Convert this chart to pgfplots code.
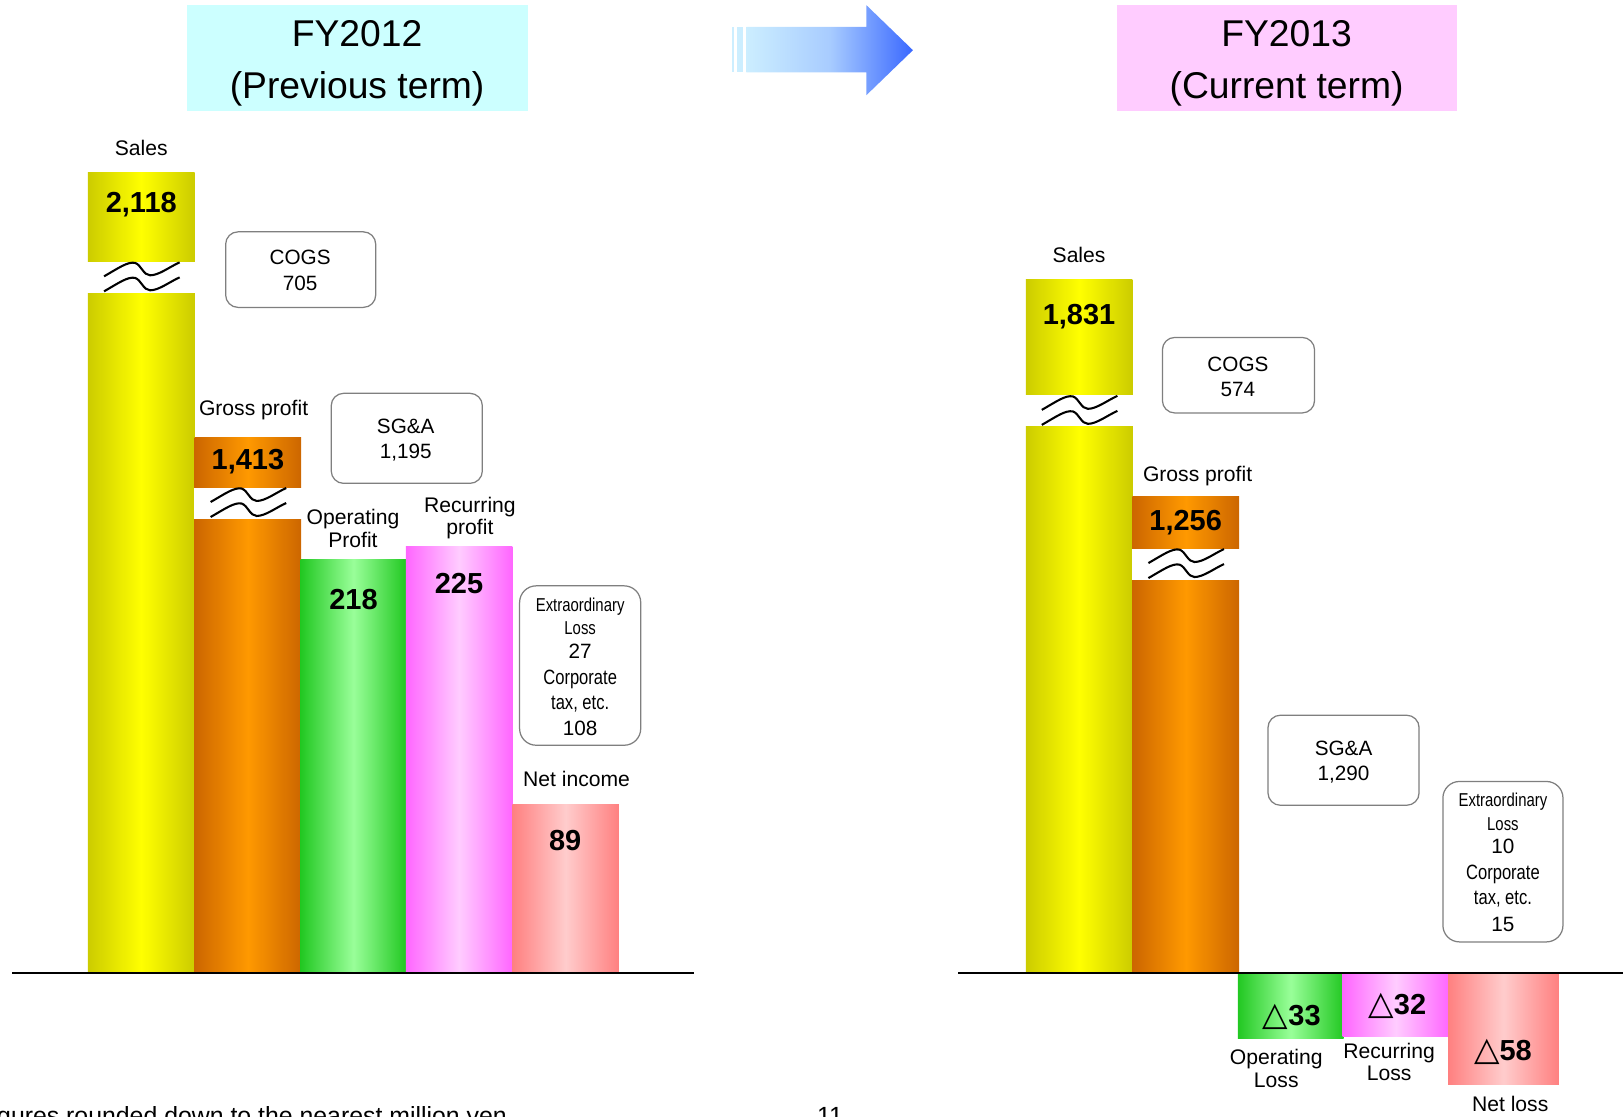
\documentclass[border=0pt]{standalone}
\usepackage{pgfplots}
\pgfplotsset{compat=1.18}
\usepackage{fontspec}
\setmainfont{Liberation Sans}
\newfontfamily\dejavu{DejaVu Sans}
\newfontfamily\narrow{Liberation Sans}[FakeStretch=0.8]

\definecolor{yedge}{HTML}{CCCC00}\definecolor{ymid}{HTML}{FFFF00}
\definecolor{oedge}{HTML}{CC6600}\definecolor{omid}{HTML}{FF9900}
\definecolor{gedge}{HTML}{22C822}\definecolor{gmid}{HTML}{99FF99}
\definecolor{medge}{HTML}{FF66FF}\definecolor{mmid}{HTML}{FFCCFF}
\definecolor{redge}{HTML}{FF8080}\definecolor{rmid}{HTML}{FFCCCC}
\definecolor{titlecyan}{HTML}{CCFFFF}\definecolor{titlepink}{HTML}{FFCCFF}
\definecolor{boxgray}{HTML}{7F7F7F}
\definecolor{arrL}{HTML}{CCEEFF}\definecolor{arrM}{HTML}{A8CCFF}\definecolor{arrR}{HTML}{3A68FF}

\newcommand{\lab}{\fontsize{10.2}{12}\selectfont}
\newcommand{\num}{\fontsize{14}{16}\selectfont\bfseries}
\newcommand{\ttl}{\fontsize{18}{21}\selectfont}
\newcommand{\bx}{\fontsize{10}{12}\selectfont}
\newcommand{\nar}{\narrow\fontsize{9}{11}\selectfont}
\newcommand{\tri}{{\dejavu\fontsize{16}{16}\selectfont\bfseries △}}

\pgfplotsset{barsty/.style n args={3}{ybar, bar width=#3, bar shift=0pt, draw=none,
  left color=#1, right color=#1, middle color=#2}}

% one wavy line, #1 = centre x, #2 = top y
\newcommand{\wav}[2]{%
 \draw[line width=1pt] (axis cs:{#1-36},{#2-14}) .. controls (axis cs:{#1-22},{#2-6}) and (axis cs:{#1-13},{#2+0.5}) ..
 (axis cs:{#1-6},{#2-1}) .. controls (axis cs:{#1},{#2-3}) and (axis cs:{#1+2},{#2-13}) ..
 (axis cs:{#1+8.5},{#2-13}) .. controls (axis cs:{#1+17},{#2-13}) and (axis cs:{#1+27},{#2-5}) ..
 (axis cs:{#1+37},{#2-0.5});}
\newcommand{\brk}[2]{%
 \fill[white] (axis cs:{#1-52},{#2}) rectangle (axis cs:{#1+52},{#2-30});
 \wav{#1}{#2}\wav{#1}{#2-14.5}}

\begin{document}
\begin{tikzpicture}
\begin{axis}[name=main, hide axis, scale only axis, clip=false,
  width=784pt, height=539.5pt, xmin=0, xmax=1568, ymin=-139, ymax=940]

% titles
\fill[titlecyan] (axis cs:181,935) rectangle (axis cs:510,833);
\fill[titlepink] (axis cs:1079,935) rectangle (axis cs:1408,833);
\node[inner sep=0] at (axis cs:345,907) {\ttl FY2012};
\node[inner sep=0] at (axis cs:345,854) {\ttl (Previous term)};
\node[inner sep=0] at (axis cs:1243,907) {\ttl FY2013};
\node[inner sep=0] at (axis cs:1243,854) {\ttl (Current term)};

% arrow
\fill[arrL] (axis cs:707,914) rectangle (axis cs:709,870);
\fill[arrL] (axis cs:712,914) rectangle (axis cs:718,870);
\path[left color=arrL, right color=arrR, middle color=arrM]
 (axis cs:721,914) -- (axis cs:837,914) -- (axis cs:837,935) -- (axis cs:882,891.5)
 -- (axis cs:837,848) -- (axis cs:837,870) -- (axis cs:721,870) -- cycle;

% bars (heights as drawn, baseline = 0)
% FY2012
\addplot[barsty={yedge}{ymid}{103}] coordinates {(136.5,773)};
\addplot[barsty={oedge}{omid}{103}] coordinates {(239.5,517)};
\addplot[barsty={gedge}{gmid}{102}] coordinates {(341.5,399)};
\addplot[barsty={medge}{mmid}{103}] coordinates {(443.5,412)};
\addplot[barsty={redge}{rmid}{103}] coordinates {(546.5,163)};
% FY2013
\addplot[barsty={yedge}{ymid}{103}] coordinates {(1042.5,670)};
\addplot[barsty={oedge}{omid}{103}] coordinates {(1145.5,460)};
\addplot[barsty={gedge}{gmid}{102}] coordinates {(1247,-63)};
\addplot[barsty={medge}{mmid}{103}] coordinates {(1348.5,-61)};
\addplot[barsty={redge}{rmid}{107}] coordinates {(1452.5,-108)};

% breaks
\brk{136.5}{687}
\brk{239.5}{469}
\brk{1042.5}{558}
\brk{1145.5}{410}

% baselines
\draw[line width=1pt] (axis cs:12,0) -- (axis cs:670,0);
\draw[line width=1pt] (axis cs:926,0) -- (axis cs:1568,0);

% boxes
\draw[boxgray, line width=0.6pt, rounded corners=6pt, fill=white] (axis cs:218,716) rectangle (axis cs:363,643);
\draw[boxgray, line width=0.6pt, rounded corners=6pt, fill=white] (axis cs:320,560) rectangle (axis cs:466,473);
\draw[boxgray, line width=0.6pt, rounded corners=8pt, fill=white] (axis cs:502,374) rectangle (axis cs:619,220);
\draw[boxgray, line width=0.6pt, rounded corners=6pt, fill=white] (axis cs:1123,614) rectangle (axis cs:1270,541);
\draw[boxgray, line width=0.6pt, rounded corners=6pt, fill=white] (axis cs:1225,249) rectangle (axis cs:1371,162);
\draw[boxgray, line width=0.6pt, rounded corners=8pt, fill=white] (axis cs:1394,185) rectangle (axis cs:1510,30);

% left texts
\node[inner sep=0] at (axis cs:136.5,797) {\lab Sales};
\node[inner sep=0] at (axis cs:136.5,742) {\num 2,118};
\node[inner sep=0] at (axis cs:245,544) {\lab Gross profit};
\node[inner sep=0] at (axis cs:239.5,494) {\num 1,413};
\node[inner sep=0] at (axis cs:341,439) {\lab Operating};
\node[inner sep=0] at (axis cs:341,418) {\lab Profit};
\node[inner sep=0] at (axis cs:341.5,361) {\num 218};
\node[inner sep=0] at (axis cs:454,450) {\lab Recurring};
\node[inner sep=0] at (axis cs:454,429) {\lab profit};
\node[inner sep=0] at (axis cs:443.5,376) {\num 225};
\node[inner sep=0] at (axis cs:557,187) {\lab Net income};
\node[inner sep=0] at (axis cs:546,128) {\num 89};
\node[inner sep=0] at (axis cs:290,691) {\bx COGS};
\node[inner sep=0] at (axis cs:290,666) {\bx 705};
\node[inner sep=0] at (axis cs:392,528) {\bx SG\&A};
\node[inner sep=0] at (axis cs:392,503) {\bx 1,195};
\node[inner sep=0] at (axis cs:560.5,354) {\nar Extraordinary};
\node[inner sep=0] at (axis cs:560.5,333) {\nar Loss};
\node[inner sep=0] at (axis cs:560.5,311) {\bx 27};
\node[inner sep=0] at (axis cs:560.5,284) {\nar\fontsize{10}{12}\selectfont Corporate};
\node[inner sep=0] at (axis cs:560.5,260) {\nar\fontsize{10}{12}\selectfont tax, etc.};
\node[inner sep=0] at (axis cs:560.5,236) {\bx 108};

% right texts
\node[inner sep=0] at (axis cs:1042.5,694) {\lab Sales};
\node[inner sep=0] at (axis cs:1042.5,634) {\num 1,831};
\node[inner sep=0] at (axis cs:1157,480) {\lab Gross profit};
\node[inner sep=0] at (axis cs:1145.5,435) {\num 1,256};
\node[inner sep=0] at (axis cs:1196,588) {\bx COGS};
\node[inner sep=0] at (axis cs:1196,564) {\bx 574};
\node[inner sep=0] at (axis cs:1298,217) {\bx SG\&A};
\node[inner sep=0] at (axis cs:1298,192) {\bx 1,290};
\node[inner sep=0] at (axis cs:1452,165) {\nar Extraordinary};
\node[inner sep=0] at (axis cs:1452,144) {\nar Loss};
\node[inner sep=0] at (axis cs:1452,122) {\bx 10};
\node[inner sep=0] at (axis cs:1452,95) {\nar\fontsize{10}{12}\selectfont Corporate};
\node[inner sep=0] at (axis cs:1452,71) {\nar\fontsize{10}{12}\selectfont tax, etc.};
\node[inner sep=0] at (axis cs:1452,47) {\bx 15};
\node[inner sep=0] at (axis cs:1248,-42) {\tri\num 33};
\node[inner sep=0] at (axis cs:1233,-83) {\lab Operating};
\node[inner sep=0] at (axis cs:1233,-104) {\lab Loss};
\node[inner sep=0] at (axis cs:1350,-32) {\tri\num 32};
\node[inner sep=0] at (axis cs:1342,-77) {\lab Recurring};
\node[inner sep=0] at (axis cs:1342,-97) {\lab Loss};
\node[inner sep=0] at (axis cs:1452,-76) {\tri\num 58};
\node[inner sep=0] at (axis cs:1459,-127) {\lab Net loss};

% footer (cut by the page edge, as in the reference)
\node[inner sep=0, anchor=base east] at (axis cs:490,-146) {\fontsize{12}{14}\selectfont Figures rounded down to the nearest million yen};
\node[inner sep=0, anchor=base] at (axis cs:802,-146) {\fontsize{12}{14}\selectfont 11};
\end{axis}
\pgfresetboundingbox
\path (main.south west) rectangle (main.north east);
\end{tikzpicture}
\end{document}
